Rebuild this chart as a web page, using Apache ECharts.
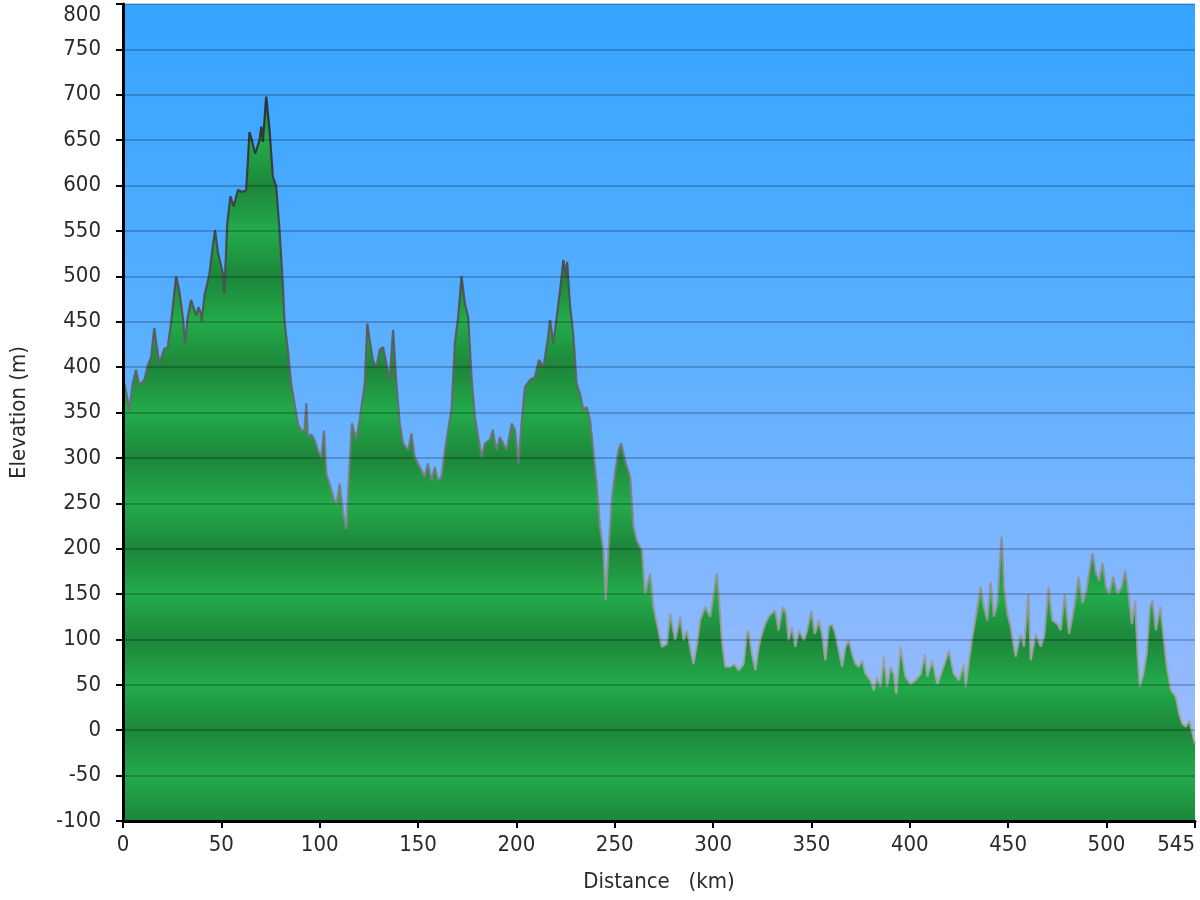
<!DOCTYPE html>
<html>
<head>
<meta charset="utf-8">
<script src="https://cdn.jsdelivr.net/npm/echarts@6/dist/echarts.min.js"></script>
<style>
html,body{margin:0;padding:0;background:#fff;}
#chart{width:1200px;height:900px;}
</style>
</head>
<body>
<div id="chart"></div>
<script>
const distance = [0,0.7,2,3.2,4.9,6.6,8.3,10.9,12.6,14.3,15.9,17,18.5,21,22.7,24.4,27,28.7,30.4,31.6,32.9,34.6,37.2,38.4,39.7,40,41.5,43.9,45.3,46.8,48.2,50.8,51.5,53,54.6,56.3,58.4,60.9,62.6,63.5,64.3,65.5,67.2,69.4,70.3,71.1,72.8,74.5,76.2,77.9,79.6,81.3,82.1,83.8,85.5,87.2,88.9,90.6,92.3,93.2,94,95.7,97.4,99.1,100.8,102.2,103.4,105,106.8,108.5,110.1,111.9,113.5,114.7,116.4,118.6,120.3,121.2,122.9,124.2,125.4,127.1,128.8,130.5,132.2,133.9,135.6,137.3,139,140.7,142.4,145,146.6,148.3,150.9,153.4,155,156.8,158.5,160.2,161.9,163.6,165.3,167,168.7,170.4,172.1,173.8,175.5,177.2,178.9,180.6,182.3,184,186.5,188,189.9,191.6,193.3,195,197.6,199.3,201,202.6,204.3,206.9,209.4,211.5,213.7,215.9,217.1,218.8,220.5,222.6,223.9,225.2,225.8,227.2,229,230.6,232.3,234,235.7,237.4,239.1,240.8,242.5,244.2,245.4,246.8,248.5,250.1,251.9,253.2,255.2,257.8,259.5,261.2,263.8,265.4,268,269.7,272.2,273.9,276.5,278.2,280.7,283.3,285,286.7,288.3,290,291.8,293.4,296,298.5,300.3,301.9,303.1,304.5,306.2,308.7,310.9,313,315.5,317.2,318,319.8,321.5,323.2,324.8,326.5,328.2,329.9,331.6,333.3,335.4,337.1,338.4,340.1,341.8,343.8,346.1,347.8,350,351.7,353.8,355.4,357.1,358.8,360.5,362.2,363.9,365.6,367.3,369,370.7,372.4,374.1,375.8,377.5,380,381.7,383.4,385.1,386.8,388.5,390.2,391.9,393.1,395.3,397.8,400.4,402.9,405.5,407.7,408.9,411.4,414,416.5,419.9,422.4,425,427.5,428.4,430.1,431.8,433.5,436,437.7,439.4,441.1,442.8,444.5,446.7,447.9,449.6,451.3,453.8,456.4,458.1,460.3,461.5,464,466.6,468.3,470.5,472.5,475.1,476.7,478.8,481,483.6,485.8,487.8,489.8,491.2,492.9,494.6,496.3,498,499.7,501.4,503.4,505.6,507.8,509.5,511.2,512.9,514.6,515.8,517,518.7,520.4,522.1,523.4,525.1,527.4,529,530.7,532.8,535.3,537,538.7,540.4,542.1,543.8,545];
const elevation = [385,382,368,352,382,397,380,386,402,411,443,425,404,420,422,448,500,483,455,426,455,474,457,466,459,450,480,502,527,551,527,503,481,558,588,577,595,593,595,628,659,650,635,650,665,648,698,661,610,599,550,490,450,419,382,360,338,330,331,360,323,326,320,308,300,330,282,272,258,248,272,240,222,272,338,320,342,342,382,448,430,408,400,419,422,404,386,441,382,338,316,308,327,301,290,279,294,275,290,275,279,308,331,353,426,455,500,470,455,389,345,323,301,316,320,331,308,323,316,308,338,331,294,338,378,386,389,408,400,430,452,426,455,492,518,500,516,470,433,382,371,353,356,342,308,272,224,198,143,198,253,283,308,316,297,279,224,209,198,150,173,136,110,92,95,129,99,125,99,110,92,73,95,121,136,125,150,173,143,99,70,70,73,66,73,106,110,84,66,92,106,117,125,129,132,110,136,129,99,114,92,110,99,110,132,106,121,106,77,114,117,106,88,70,92,99,84,73,70,77,62,55,44,59,48,81,48,70,62,40,92,59,51,55,62,84,59,77,51,66,88,62,55,73,48,77,103,125,158,136,121,163,125,140,213,158,129,114,81,106,92,150,77,106,92,103,158,121,117,110,150,106,136,169,140,154,173,195,173,165,184,158,150,169,150,158,176,150,117,143,84,48,62,84,136,143,110,136,103,70,44,37,18,7,4,11,-4,-15];
const yMin = -100, yMax = 800, yStep = 50;
const xMin = 0, xMax = 545, xStep = 50;
const xName = 'Distance   (km)';
const yName = 'Elevation (m)';

(function () {
const points = distance.map((d, i) => [d, elevation[i]]);
const FONT = "'DejaVu Sans Condensed', 'DejaVu Sans'";
const FS = 22;
const TXT = '#2a2a2a';
const chart = echarts.init(document.getElementById('chart'));

function baseOption(areaColor, lineColor, bgColor) {
  return {
    animation: false,
    grid: {
      left: 122, right: 5, top: 4, bottom: 79,
      show: true, backgroundColor: bgColor, borderWidth: 0
    },
    xAxis: {
      type: 'value', min: xMin, max: xMax, interval: xStep, z: 6,
      name: xName, nameLocation: 'middle', nameGap: 50,
      nameTextStyle: { fontFamily: FONT, fontSize: FS, color: TXT },
      axisLine: { show: true, onZero: false, lineStyle: { color: '#000', width: 3 } },
      axisTick: { show: true, length: 7, lineStyle: { color: '#000', width: 2 } },
      axisLabel: { fontFamily: FONT, fontSize: FS, color: TXT, margin: 13, alignMaxLabel: 'right' },
      splitLine: { show: false }
    },
    yAxis: {
      type: 'value', min: yMin, max: yMax, interval: yStep, z: 6,
      name: yName, nameLocation: 'middle', nameGap: 93,
      nameTextStyle: { fontFamily: FONT, fontSize: FS, color: TXT },
      axisLine: { show: true, lineStyle: { color: '#000', width: 3 } },
      axisTick: { show: true, length: 7, lineStyle: { color: '#000', width: 2 } },
      axisLabel: { fontFamily: FONT, fontSize: FS, color: TXT, margin: 22, verticalAlignMaxLabel: 'top' },
      splitLine: { show: true, lineStyle: { color: 'rgba(0,0,30,0.28)', width: 1.6 } }
    },
    series: [{
      type: 'line',
      data: points,
      showSymbol: false,
      symbol: 'none',
      sampling: null,
      z: 2,
      lineStyle: { color: lineColor, width: 2.2 },
      areaStyle: { color: areaColor, opacity: 1, origin: 'start' }
    }]
  };
}

chart.setOption(baseOption('#22a84a', '#777', '#5ab0ff'));

const yPix = v => chart.convertToPixel({ yAxisIndex: 0 }, v);
const yTop = yPix(yMax), yBot = yPix(yMin);
const H = yBot - yTop;
const light = '#23ab4b', dark = '#1d863a';
const bandStops = [];
for (let v = yMax; v >= yMin; v -= yStep) {
  const off = (yPix(v) - yTop) / H;
  const isDark = (((v % 100) + 100) % 100) === 0;
  bandStops.push({ offset: Math.min(1, Math.max(0, off)), color: isDark ? dark : light });
}
const areaGrad = new echarts.graphic.LinearGradient(0, yTop, 0, yBot, bandStops, true);
const lineGrad = new echarts.graphic.LinearGradient(0, yPix(720), 0, yPix(0), [
  { offset: 0, color: 'rgba(40,40,40,0.95)' },
  { offset: 0.35, color: 'rgba(80,80,80,0.9)' },
  { offset: 0.6, color: 'rgba(120,120,120,0.85)' },
  { offset: 0.85, color: 'rgba(160,160,160,0.85)' },
  { offset: 1, color: 'rgba(170,170,170,0.85)' }
], true);
const bgGrad = new echarts.graphic.LinearGradient(0, yTop, 0, yBot, [
  { offset: 0, color: '#34a4ff' },
  { offset: 0.3, color: '#4eacff' },
  { offset: 0.55, color: '#6cb3ff' },
  { offset: 0.8, color: '#90b9fe' },
  { offset: 1, color: '#a6befc' }
], true);
chart.setOption(baseOption(areaGrad, lineGrad, bgGrad));
})();
</script>
</body>
</html>
